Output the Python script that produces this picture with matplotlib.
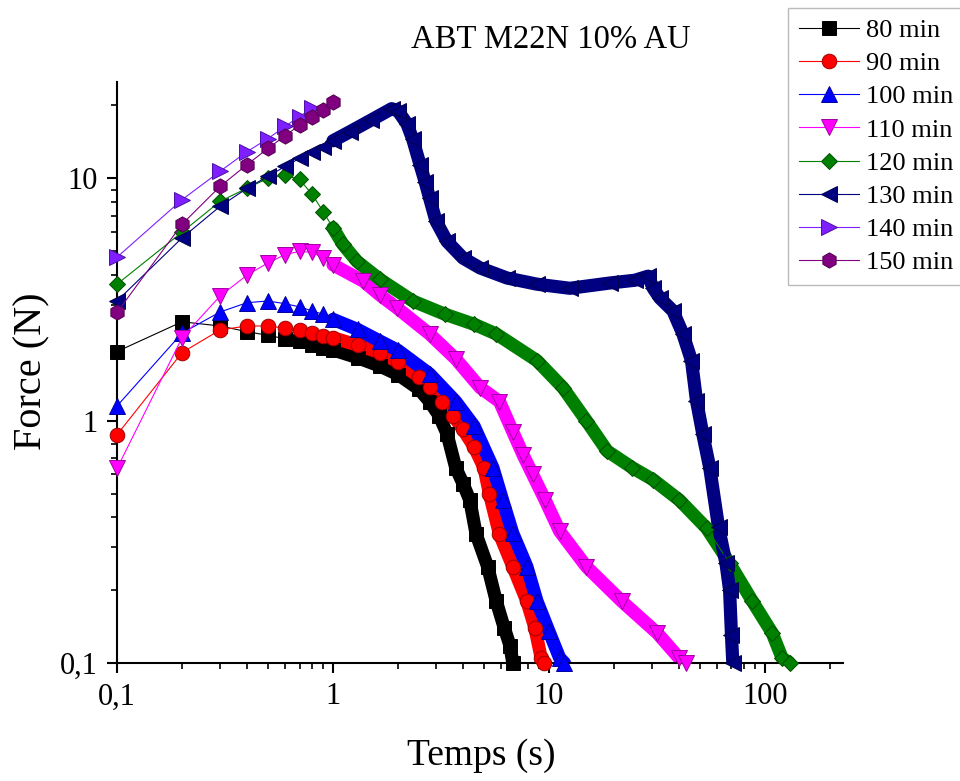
import numpy as np
import matplotlib
matplotlib.use('Agg')
import matplotlib.pyplot as plt
from matplotlib.ticker import NullFormatter, LogLocator

plt.rcParams['font.family'] = ['Liberation Serif', 'DejaVu Serif']

# time (s) and force (N) for each curing time
t_80 = [0.1, 0.2, 0.3, 0.4, 0.5, 0.6, 0.7, 0.8, 0.9, 1.0, 1.3, 1.65, 2.0, 2.5, 2.8, 3.1,
        3.37, 3.7, 4.0, 4.3, 4.6, 5.2, 5.7, 6.2, 6.6, 6.8]
f_80 = [1.93, 2.56, 2.46, 2.33, 2.25, 2.18, 2.13, 2.05, 2.0, 1.96, 1.82, 1.68, 1.55, 1.35, 1.2, 1.05,
        0.885, 0.64, 0.55, 0.47, 0.34, 0.25, 0.18, 0.14, 0.118, 0.1]

t_90 = [0.1, 0.2, 0.3, 0.4, 0.5, 0.6, 0.7, 0.8, 0.9, 1.0, 1.3, 1.65, 2.0, 2.5, 2.8, 3.2,
        3.6, 4.0, 4.5, 5.0, 5.3, 5.9, 6.8, 7.9, 8.6, 9.2, 9.5]
f_90 = [0.875, 1.91, 2.37, 2.46, 2.46, 2.41, 2.36, 2.31, 2.24, 2.2, 2.05, 1.91, 1.75, 1.52, 1.38, 1.2,
        1.05, 0.92, 0.78, 0.64, 0.5, 0.34, 0.25, 0.18, 0.14, 0.105, 0.1]

t_100 = [0.1, 0.2, 0.3, 0.4, 0.5, 0.6, 0.7, 0.8, 0.9, 1.0, 1.3, 1.65, 2.0, 2.8, 3.7, 4.5,
         5.5, 6.1, 6.8, 7.9, 8.8, 10, 11.2, 11.8]
f_100 = [1.15, 2.3, 2.81, 3.07, 3.12, 3.04, 2.95, 2.84, 2.75, 2.62, 2.38, 2.13, 1.95, 1.56, 1.2, 0.95,
         0.64, 0.47, 0.343, 0.25, 0.18, 0.135, 0.105, 0.1]

t_110 = [0.1, 0.2, 0.3, 0.4, 0.5, 0.6, 0.7, 0.8, 0.9, 1.0, 1.38, 1.65, 1.98, 2.8, 3.7, 4.8,
         5.9, 6.8, 7.6, 8.4, 9.6, 11.2, 14.9, 21.7, 31.7, 40, 43]
f_110 = [0.635, 2.2, 3.27, 3.99, 4.48, 4.85, 5.0, 4.95, 4.7, 4.4, 3.77, 3.3, 2.92, 2.28, 1.8, 1.37,
         1.2, 0.9, 0.72, 0.6, 0.47, 0.35, 0.25, 0.18, 0.133, 0.105, 0.1]

t_120 = [0.1, 0.2, 0.3, 0.4, 0.5, 0.6, 0.7, 0.8, 0.9, 1.0, 1.11, 1.29, 1.65, 2.34, 3.3, 4.5,
         5.7, 8.8, 11.6, 14.9, 18.6, 24.3, 30.4, 40.2, 53.7, 68.6, 87.4, 108, 120, 130]
f_120 = [3.66, 6.0, 8.04, 9.12, 10.0, 10.3, 9.9, 8.6, 7.3, 6.25, 5.35, 4.55, 3.83, 3.12, 2.75, 2.5,
         2.28, 1.77, 1.37, 1.0, 0.75, 0.64, 0.57, 0.47, 0.36, 0.258, 0.18, 0.133, 0.105, 0.1]

t_130 = [0.1, 0.2, 0.3, 0.4, 0.5, 0.6, 0.7, 0.8, 0.9, 1.0, 1.2, 1.5, 1.87, 2.0, 2.2, 2.34,
         2.53, 2.67, 2.8, 3.0, 3.37, 4.0, 4.8, 6.4, 8.8, 12.5, 19.1, 25, 28.8, 30.4,
         32.6, 37.5, 41.7, 45.7, 48.2, 51.5, 55.5, 61, 66, 68.6, 70, 71]
f_130 = [3.12, 5.68, 7.67, 9.1, 10.2, 11.2, 12.1, 12.9, 13.5, 14.3, 15.6, 17.4, 19.4, 19.0, 16.8, 14.5,
         11.4, 9.7, 8.3, 6.66, 5.5, 4.69, 4.27, 3.88, 3.66, 3.52, 3.7, 3.8, 3.95, 3.52,
         3.21, 2.84, 2.28, 1.77, 1.21, 0.885, 0.64, 0.363, 0.258, 0.2, 0.13, 0.1]

t_140 = [0.1, 0.2, 0.3, 0.4, 0.5, 0.6, 0.7, 0.8]
f_140 = [4.73, 8.17, 10.7, 12.9, 14.6, 16.4, 18.0, 19.5]

t_150 = [0.1, 0.2, 0.3, 0.4, 0.5, 0.6, 0.7, 0.8, 0.9, 1.0]
f_150 = [2.8, 6.47, 9.27, 11.4, 13.3, 15.0, 16.6, 18.0, 19.2, 20.6]

labels = ['80 min', '90 min', '100 min', '110 min', '120 min', '130 min', '140 min', '150 min']
times = [t_80, t_90, t_100, t_110, t_120, t_130, t_140, t_150]
forces = [f_80, f_90, f_100, f_110, f_120, f_130, f_140, f_150]

colors = ['#000000', '#FF0000', '#0000FF', '#FF00FF', '#008000', '#000080', '#7F1FFF', '#800080']
edges = ['#000000', '#A00000', '#0000A0', '#A000A0', '#005000', '#000050', '#4A0FA0', '#500050']
markers = ['s', 'o', '^', 'v', 'D', '<', '>', 'h']
msizes = [10, 10.5, 11, 11, 8.5, 11, 11, 11]

fig = plt.figure(figsize=(9.6, 7.81), dpi=100)
ax = fig.add_axes([0.1219, 0.1511, 0.7563, 0.7439])

for t, f, c, ec, m, ms, lab in zip(times, forces, colors, edges, markers, msizes, labels):
    t = np.array(t)
    f = np.array(f)
    # dense part of the record: markers overlap into a band
    dense = t >= 1.0
    if dense.sum() > 1:
        ax.plot(t[dense], f[dense], '-', color=c, lw=9.5, solid_joinstyle='round',
                solid_capstyle='round', zorder=2)
    ax.plot(t, f, '-', color=c, lw=0.8, marker=m, ms=ms, mfc=c, mec=ec, mew=0.7,
            label=lab, clip_on=False, zorder=3)

ax.set_xscale('log')
ax.set_yscale('log')
ax.set_xlim(0.1, 230)
ax.set_ylim(0.1, 25)

ax.spines['top'].set_visible(False)
ax.spines['right'].set_visible(False)
ax.spines['left'].set_linewidth(1.5)
ax.spines['bottom'].set_linewidth(1.5)

ax.set_xticks([0.1, 1, 10, 100])
ax.set_xticklabels(['0,1', '1', '10', '100'])
ax.set_yticks([0.1, 1, 10])
ax.set_yticklabels(['0,1', '1', '10'])
ax.xaxis.set_minor_locator(LogLocator(base=10, subs=np.arange(2, 10)))
ax.yaxis.set_minor_locator(LogLocator(base=10, subs=np.arange(2, 10)))
ax.xaxis.set_minor_formatter(NullFormatter())
ax.yaxis.set_minor_formatter(NullFormatter())
ax.tick_params(which='major', direction='out', length=7, width=1.5, labelsize=22, pad=7)
ax.tick_params(which='minor', direction='out', length=4, width=1.2)

fig.text(0.574, 0.949, 'ABT M22N 10% AU', fontsize=23.5, ha='center', va='center')
fig.text(0.501, 0.033, 'Temps (s)', fontsize=27, ha='center', va='center')
fig.text(0.033, 0.525, 'Force (N)', fontsize=29, ha='center', va='center', rotation=90)

leg = fig.legend(loc='upper right', bbox_to_anchor=(1.004, 0.99), fontsize=19,
                 frameon=True, fancybox=False, handlelength=2.3, handletextpad=0.25,
                 labelspacing=0.37, borderpad=0.4, borderaxespad=0, markerscale=1.0)
leg.get_frame().set_edgecolor('#AAAAAA')
leg.get_frame().set_linewidth(1.0)

fig.savefig('out.png', dpi=100)
